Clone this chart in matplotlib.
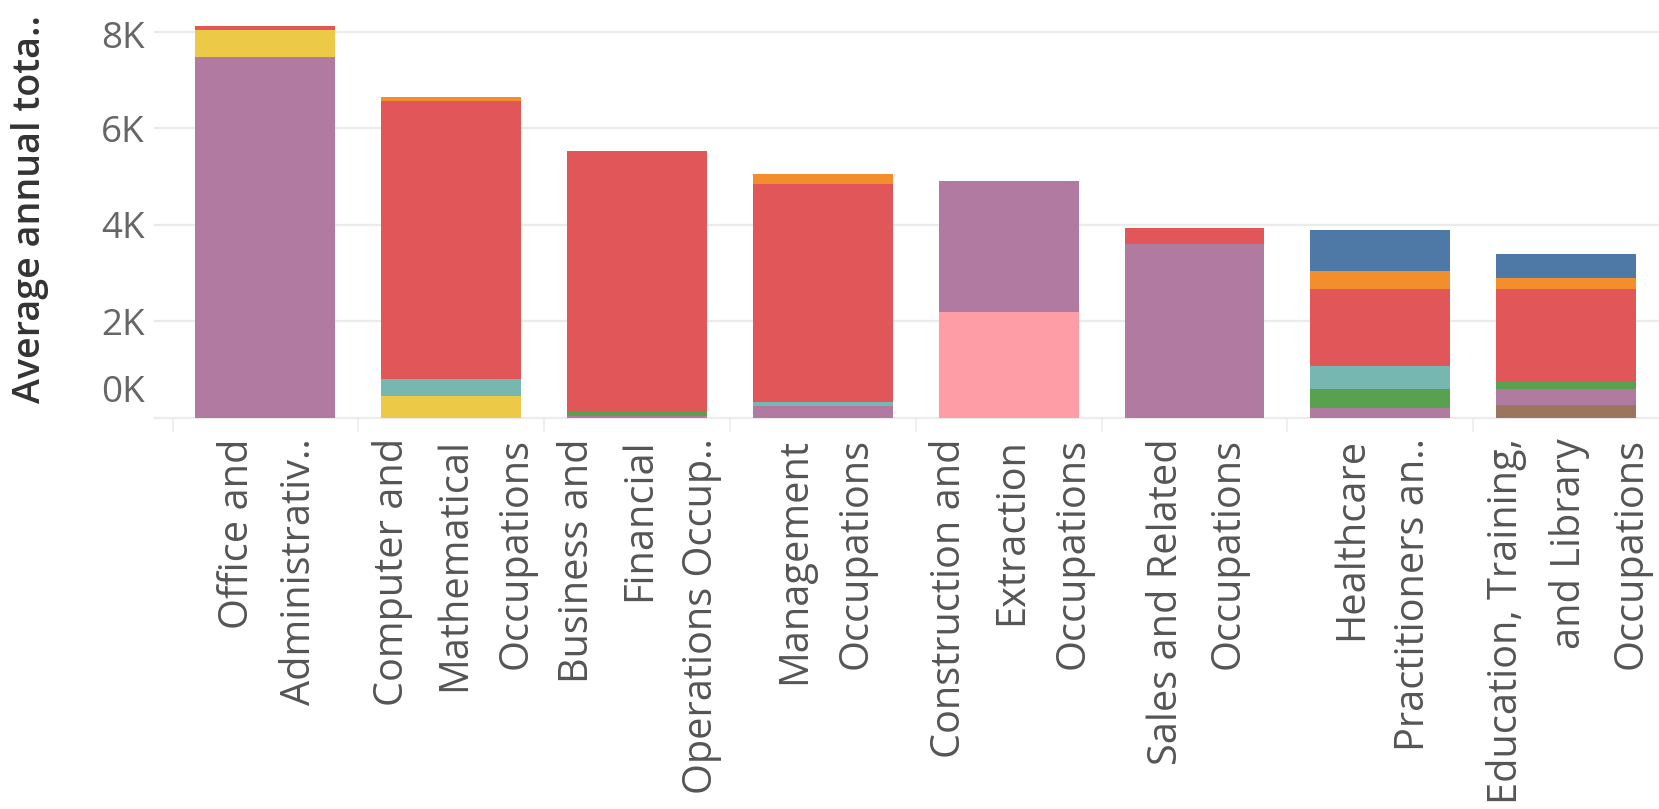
import matplotlib
matplotlib.use("Agg")
import matplotlib.pyplot as plt
from matplotlib.transforms import ScaledTranslation
import numpy as np

# Occupation groups (x axis), already wrapped the way they appear
categories = [
    "Office and\nAdministrativ..",
    "Computer and\nMathematical\nOccupations",
    "Business and\nFinancial\nOperations Occup..",
    "Management\nOccupations",
    "Construction and\nExtraction\nOccupations",
    "Sales and Related\nOccupations",
    "Healthcare\nPractitioners an..",
    "Education, Training,\nand Library\nOccupations",
]

# Stacked segments, bottom to top
brown_vals  = [0,    0,    0,    0,    0,    0,    0,    259]
pink_vals   = [0,    0,    0,    0,    2194, 0,    0,    0]
purple_vals = [7481, 0,    35,   245,  2710, 3591, 203,  326]
yellow_vals = [555,  452,  0,    0,    0,    0,    0,    0]
green_vals  = [0,    0,    105,  0,    0,    0,    394,  157]
teal_vals   = [0,    346,  0,    83,   0,    0,    477,  0]
red_vals    = [82,   5764, 5392, 4513, 0,    344,  1597, 1929]
orange_vals = [0,    90,   0,    208,  0,    0,    367,  228]
blue_vals   = [0,    0,    0,    0,    0,    0,    850,  485]

y_ticks = [0, 2000, 4000, 6000, 8000]
y_tick_labels = ["0K", "2K", "4K", "6K", "8K"]
y_title = "Average annual tota.."

layers = [
    (brown_vals,  "#9c755f"),
    (pink_vals,   "#ff9da7"),
    (purple_vals, "#b07aa1"),
    (yellow_vals, "#edc948"),
    (green_vals,  "#59a14f"),
    (teal_vals,   "#76b7b2"),
    (red_vals,    "#e15759"),
    (orange_vals, "#f28e2b"),
    (blue_vals,   "#4e79a7"),
]

plt.rcParams["font.family"] = ["Open Sans", "DejaVu Sans"]

W, H = 1659, 809
fig = plt.figure(figsize=(W / 100, H / 100), dpi=100)
ax_left = 172.5 / W
ax_bottom = (H - 417.5) / H
ax = fig.add_axes([ax_left, ax_bottom, 1 - ax_left, 417.5 / H])

x = np.arange(len(categories))
bottom = np.zeros(len(categories))
for vals, color in layers:
    v = np.array(vals, dtype=float)
    ax.bar(x, v, bottom=bottom, width=0.753, color=color, linewidth=0, zorder=3)
    bottom += v

ax.set_xlim(-0.5, len(categories) - 0.5)
ax.set_ylim(0, 8657)

# light horizontal gridlines that run a little past the axis on the left
ext = -17.5 / (W * (1 - ax_left))
for t in y_ticks:
    ax.axhline(t, xmin=ext, xmax=1, color="#ebebeb", lw=1.6, zorder=1, clip_on=False)

# short dividers between the columns under the baseline
for b in np.arange(len(categories)) - 0.5:
    ax.plot([b, b], [0, -270], color="#ececec", lw=1.2, clip_on=False, zorder=1)

for s in ax.spines.values():
    s.set_visible(False)

ax.set_yticks(y_ticks)
ax.set_yticklabels(y_tick_labels, fontsize=26.5, color="#666666")
ax.tick_params(axis="y", length=0, pad=20)
ylabels = ax.get_yticklabels()
ylabels[0].set_transform(ylabels[0].get_transform() + ScaledTranslation(0, 0.295, fig.dpi_scale_trans))
ylabels[-1].set_transform(ylabels[-1].get_transform() + ScaledTranslation(0, -0.03, fig.dpi_scale_trans))

ax.set_xticks(x)
ax.set_xticklabels(categories, rotation=90, fontsize=28.6, color="#555555",
                   ha="center", va="top", multialignment="right", linespacing=1.7)
ax.tick_params(axis="x", length=0, pad=15)
for lbl in ax.get_xticklabels():
    lbl.set_transform(lbl.get_transform() + ScaledTranslation(0.03, 0, fig.dpi_scale_trans))

fig.text(30 / W, 1 - 209 / H, y_title, rotation=90, fontsize=27.1, fontweight="semibold",
         color="#333333", ha="center", va="center")

fig.savefig("out.png", dpi=100, facecolor="white")
